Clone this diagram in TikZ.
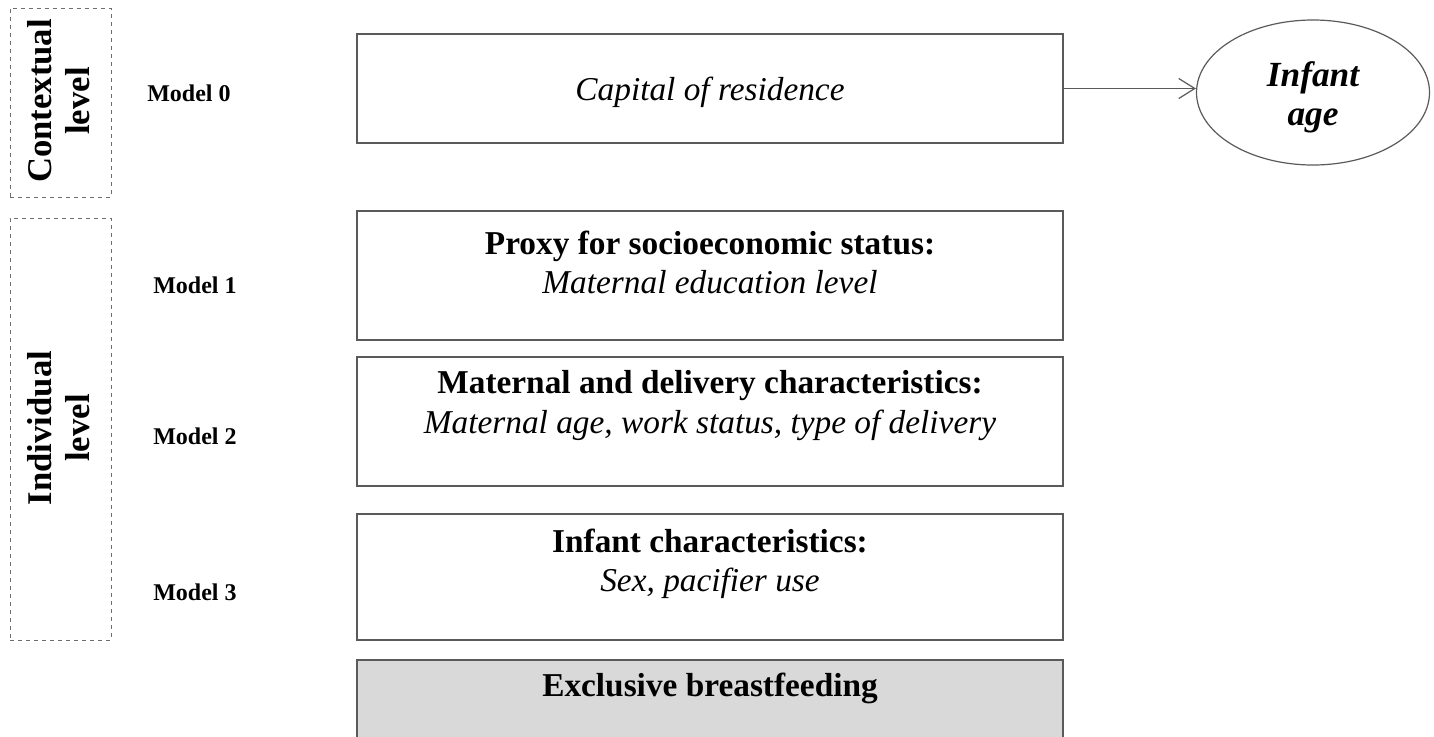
\documentclass[tikz,border=0pt]{standalone}
\usepackage{fontspec}
\setmainfont{Liberation Serif}
\usetikzlibrary{shapes.geometric,arrows.meta}

\begin{document}
\begin{tikzpicture}[x=0.75pt,y=0.75pt,yscale=-1,xscale=1,
  modelbox/.style={draw={rgb, 255:red, 90; green, 90; blue, 90 },line width=0.9pt,minimum width=529.5pt,inner sep=0pt},
  levelbox/.style={draw={rgb, 255:red, 110; green, 110; blue, 110 },dashed,line width=0.7pt,minimum width=75.75pt,inner sep=0pt},
  boxtext/.style={align=center,inner sep=0.75pt,font=\fontsize{25}{29.5}\selectfont},
  modeltext/.style={inner sep=0.75pt,font=\fontsize{18}{21}\selectfont\bfseries},
  leveltext/.style={align=center,inner sep=0.75pt,rotate=90,font=\fontsize{26}{28.5}\selectfont\bfseries}]
\useasboundingbox (0,0) rectangle (1434,736);

%Shape: Dashed boxes
\node [levelbox,minimum height=141.75pt] (ctx) at (60.5,102.5) {};
\node [levelbox,minimum height=316.5pt] (ind) at (60.5,429) {};
% Text Node
\node [leveltext] (ctxlab) at (59,101) {Contextual\\level};
% Text Node
\node [leveltext] (indlab) at (59,428) {Individual\\level};

% Text Node
\node [modeltext,anchor=west] (m0) at (146,93) {Model 0};
\node [modeltext,anchor=west] (m1) at (152,285) {Model 1};
\node [modeltext,anchor=west] (m2) at (152,436) {Model 2};
\node [modeltext,anchor=west] (m3) at (152,592) {Model 3};

%Shape: Rectangles
\node [modelbox,minimum height=81.75pt] (b0) at (710,88.5) {};
\node [modelbox,minimum height=96.75pt] (b1) at (710,275.5) {};
\node [modelbox,minimum height=96.75pt] (b2) at (710,421.5) {};
\node [modelbox,minimum height=94.5pt] (b3) at (710,577) {};
\node [modelbox,minimum height=61.5pt,fill={rgb, 255:red, 217; green, 217; blue, 217 }] (b4) at (710,701) {};

% Text Node
\node [boxtext] (t0) at (710,92) {\itshape Capital of residence};
% Text Node
\node [boxtext] (t1) at (710,262.5) {\textbf{Proxy for socioeconomic status:}\\\textit{Maternal education level}};
% Text Node
\node [boxtext] (t2) at (710,405.5) {\textbf{Maternal and delivery characteristics:}\\\textit{Maternal age, work status, type of delivery}};
% Text Node
\node [boxtext] (t3) at (710,563.5) {\textbf{Infant characteristics:}\\\textit{Sex, pacifier use}};
% Text Node
\node [boxtext] (t4) at (710,688) {\bfseries Exclusive breastfeeding};

%Shape: Ellipse
\node [ellipse,draw={rgb, 255:red, 90; green, 90; blue, 90 },line width=0.9pt,minimum width=174.75pt,minimum height=108.75pt,inner sep=0pt] (age) at (1313,92.5) {};
% Text Node
\node [align=center,inner sep=0.75pt,font=\fontsize{26.5}{29.5}\selectfont\bfseries\itshape] (agelab) at (1313,97) {Infant\\age};

%Straight Lines
\draw [color={rgb, 255:red, 90; green, 90; blue, 90 },line width=0.9pt,-{Straight Barb[length=12pt,width=15pt]}] (b0.east) -- (b0.east -| age.west);

\end{tikzpicture}
\end{document}
